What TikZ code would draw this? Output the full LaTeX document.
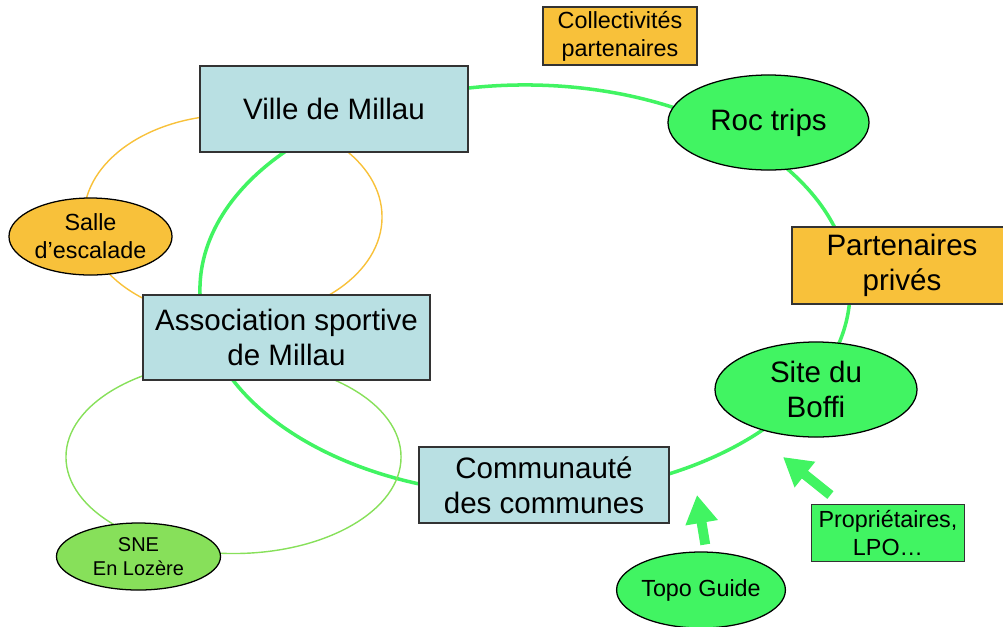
\documentclass[tikz,border=0pt]{standalone}
\usepackage{fontspec}
\setmainfont{Liberation Sans}
\usetikzlibrary{shapes.geometric,arrows.meta}
\definecolor{paleblue}{HTML}{B9E0E3}
\definecolor{gold}{HTML}{F8C13A}
\definecolor{brightgreen}{HTML}{41F462}
\definecolor{softgreen}{HTML}{87E05A}
\tikzset{
  box/.style={rectangle, draw=black!80, line width=0.9pt, inner sep=0pt, align=center},
  bubble/.style={ellipse, draw=black, line width=0.9pt, inner sep=0pt, align=center},
  bigtext/.style={font=\fontsize{21}{25}\selectfont},
  smalltext/.style={font=\fontsize{16.6}{20}\selectfont},
  tinytext/.style={font=\fontsize{14.2}{17}\selectfont},
  bigarrow/.style={brightgreen, line width=7pt, -{Triangle[length=20pt,width=22pt]}}
}
\begin{document}
\begin{tikzpicture}[x=0.025cm, y=-0.025cm]
            \useasboundingbox (0,0) rectangle (1003,626);

            \draw[brightgreen, line width=2.5pt] (525,290) ellipse [x radius=8.125cm, y radius=5.125cm];
            \draw[gold, line width=1pt] (233,217) ellipse [x radius=3.725cm, y radius=2.55cm];
            \draw[softgreen, line width=1pt] (233.5,457) ellipse [x radius=4.1875cm, y radius=2.4125cm];

            \node[box, fill=gold, smalltext, minimum width=3.85cm, minimum height=1.45cm] (collect) at (620,36) {Collectivités\\partenaires};
            \node[box, fill=paleblue, bigtext, minimum width=6.7cm, minimum height=2.15cm] (ville) at (334,109) {Ville de Millau};
            \node[bubble, fill=brightgreen, bigtext, minimum width=5.025cm, minimum height=2.375cm] (roc) at (768.5,122.5) {Roc trips};
            \node[box, fill=gold, bigtext, minimum width=5.5cm, minimum height=1.925cm] (prives) at (902,265.5) {Partenaires\\privés};
            \node[bubble, fill=brightgreen, bigtext, minimum width=5.05cm, minimum height=2.375cm] (boffi) at (816,389.5) {Site du\\Boffi};
            \node[box, fill=brightgreen, smalltext, minimum width=3.825cm, minimum height=1.425cm] (proprio) at (888,533) {Propriétaires,\\LPO…};
            \node[bubble, fill=brightgreen, smalltext, minimum width=4.1cm, minimum height=1.9cm] (topo) at (701,590) {Topo Guide};
            \node[box, fill=paleblue, bigtext, minimum width=6.25cm, minimum height=1.9cm] (cdc) at (544,485) {Communauté\\des communes};
            \node[box, fill=paleblue, bigtext, minimum width=7.175cm, minimum height=2.125cm] (asm) at (286.5,337.5) {Association sportive\\de Millau};
            \node[bubble, fill=gold, smalltext, minimum width=4.075cm, minimum height=1.925cm] (salle) at (90.5,236.5) {Salle\\d’escalade};
            \node[bubble, fill=softgreen, tinytext, minimum width=4.1cm, minimum height=1.675cm] (sne) at (138.5,556.5) {SNE\\En Lozère};

            \coordinate (topotip) at (697,495);
            \coordinate (boffitip) at (783,457);
            \draw[bigarrow, shorten <=5pt] (topo.82) -- (topotip);
            \draw[bigarrow, shorten <=10pt] (proprio.148) -- (boffitip);

        \end{tikzpicture}
\end{document}
